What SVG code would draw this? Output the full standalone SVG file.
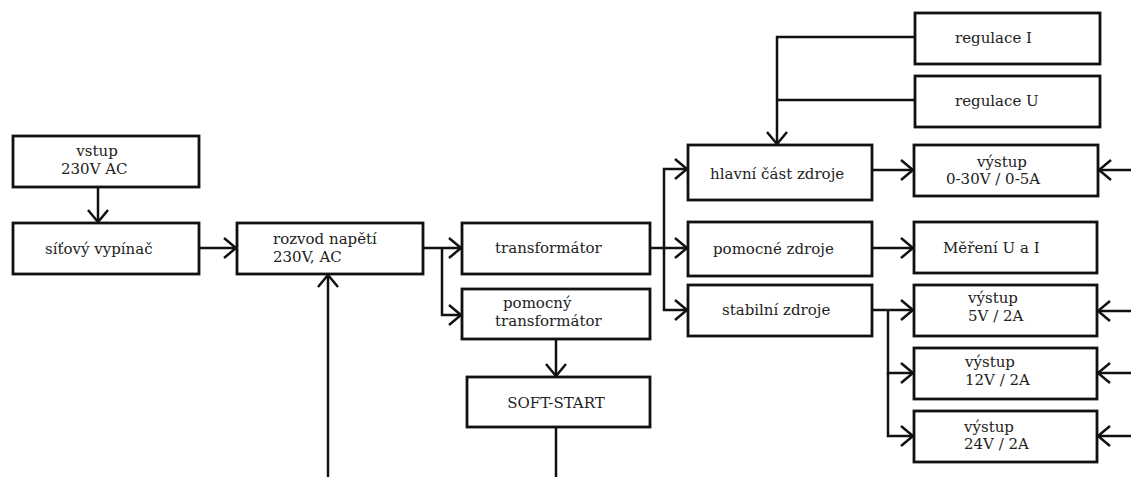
<svg xmlns="http://www.w3.org/2000/svg" width="1131" height="477" viewBox="0 0 1131 477">
<style>
.box{fill:#fff;stroke:#111;stroke-width:2.8}
.t{font-family:"DejaVu Serif","Liberation Serif",serif;font-size:15px;fill:#222}
.c{fill:none;stroke:#111;stroke-width:2.5}
</style>
<defs>
<marker id="ah" markerUnits="userSpaceOnUse" viewBox="0 0 14 22" refX="13" refY="11" markerWidth="14" markerHeight="22" orient="auto">
<path d="M1,1 L13,11 L1,21" fill="none" stroke="#111" stroke-width="2.5"/>
</marker>
</defs>
<rect width="1131" height="477" fill="#fff"/>
<g id="connectors">
<path class="c" d="M98,187 V222" marker-end="url(#ah)"/>
<path class="c" d="M199,248 H236" marker-end="url(#ah)"/>
<path class="c" d="M328,477 V275" marker-end="url(#ah)"/>
<path class="c" d="M423,248 H461" marker-end="url(#ah)"/>
<path class="c" d="M442,248 V315 H461" marker-end="url(#ah)"/>
<path class="c" d="M556,339 V376" marker-end="url(#ah)"/>
<path class="c" d="M556,427 V477"/>
<path class="c" d="M650,248 H687" marker-end="url(#ah)"/>
<path class="c" d="M664,248 V169 H687" marker-end="url(#ah)"/>
<path class="c" d="M664,248 V310 H687" marker-end="url(#ah)"/>
<path class="c" d="M915,37 H777 V144" marker-end="url(#ah)"/>
<path class="c" d="M915,100 H777"/>
<path class="c" d="M872,170 H913" marker-end="url(#ah)"/>
<path class="c" d="M1131,170 H1099" marker-end="url(#ah)"/>
<path class="c" d="M872,248 H913" marker-end="url(#ah)"/>
<path class="c" d="M872,310 H913" marker-end="url(#ah)"/>
<path class="c" d="M888,310 V373 H913" marker-end="url(#ah)"/>
<path class="c" d="M888,373 V436 H913" marker-end="url(#ah)"/>
<path class="c" d="M1131,311 H1098" marker-end="url(#ah)"/>
<path class="c" d="M1131,373 H1098" marker-end="url(#ah)"/>
<path class="c" d="M1131,436 H1098" marker-end="url(#ah)"/>
</g>
<g id="vstup"><rect class="box" x="13" y="136" width="186" height="51"/>
<text class="t" x="97" y="156" text-anchor="middle">vstup</text><text class="t" x="61" y="174">230V AC</text></g>
<g id="sitovy-vypinac"><rect class="box" x="13" y="223" width="186" height="51"/>
<text class="t" x="45" y="254">síťový vypínač</text></g>
<g id="rozvod"><rect class="box" x="237" y="223" width="186" height="51"/>
<text class="t" x="273" y="244">rozvod napětí</text><text class="t" x="273" y="262">230V, AC</text></g>
<g id="transformator"><rect class="box" x="462" y="223" width="188" height="51"/>
<text class="t" x="495" y="253">transformátor</text></g>
<g id="pomocny-transformator"><rect class="box" x="462" y="289" width="188" height="50"/>
<text class="t" x="503" y="308">pomocný</text><text class="t" x="495" y="326">transformátor</text></g>
<g id="soft-start"><rect class="box" x="467" y="377" width="183" height="50"/>
<text class="t" x="556" y="408" text-anchor="middle">SOFT-START</text></g>
<g id="regulace-i"><rect class="box" x="915" y="13" width="185" height="51"/>
<text class="t" x="955" y="43">regulace I</text></g>
<g id="regulace-u"><rect class="box" x="915" y="76" width="185" height="51"/>
<text class="t" x="955" y="106">regulace U</text></g>
<g id="hlavni"><rect class="box" x="688" y="145" width="184" height="55"/>
<text class="t" x="710" y="179">hlavní část zdroje</text></g>
<g id="pomocne-zdroje"><rect class="box" x="688" y="222" width="184" height="54"/>
<text class="t" x="713" y="254">pomocné zdroje</text></g>
<g id="stabilni-zdroje"><rect class="box" x="688" y="285" width="184" height="51"/>
<text class="t" x="722" y="315">stabilní zdroje</text></g>
<g id="vystup-0-30"><rect class="box" x="914" y="145" width="184" height="51"/>
<text class="t" x="1002" y="167" text-anchor="middle">výstup</text><text class="t" x="946" y="184">0-30V / 0-5A</text></g>
<g id="mereni"><rect class="box" x="914" y="222" width="183" height="51"/>
<text class="t" x="943" y="253">Měření U a I</text></g>
<g id="vystup-5"><rect class="box" x="914" y="285" width="183" height="51"/>
<text class="t" x="968" y="303">výstup</text><text class="t" x="968" y="321">5V / 2A</text></g>
<g id="vystup-12"><rect class="box" x="914" y="348" width="183" height="51"/>
<text class="t" x="965" y="367">výstup</text><text class="t" x="965" y="385">12V / 2A</text></g>
<g id="vystup-24"><rect class="box" x="914" y="411" width="183" height="51"/>
<text class="t" x="964" y="432">výstup</text><text class="t" x="964" y="449">24V / 2A</text></g>
</svg>
